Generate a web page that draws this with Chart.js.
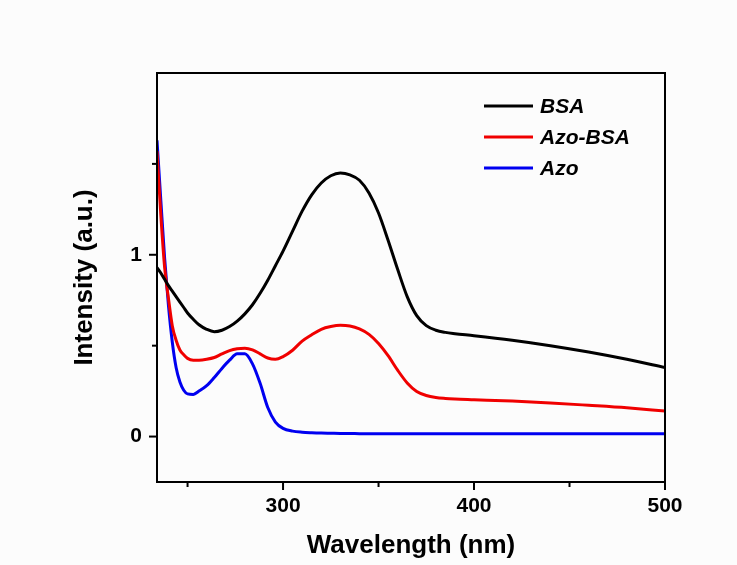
<!DOCTYPE html>
<html>
<head>
<meta charset="utf-8">
<script src="https://cdn.jsdelivr.net/npm/chart.js"></script>
<style>
  html, body { margin: 0; padding: 0; background: #fcfcfc; }
  #wrap { width: 737px; height: 565px; }
</style>
</head>
<body>
<div id="wrap"><canvas id="grafico"></canvas></div>
<script>
// wavelength grid (nm)
const comprimento = [234, 236, 238, 240, 242, 244, 246, 248, 250, 253, 256, 260, 264, 268, 272, 276, 280, 284, 288, 292,
  296, 300, 305, 310, 315, 320, 325, 330, 335, 340, 345, 350, 355, 360, 365, 370, 375, 380, 385, 390,
  400, 420, 440, 460, 480, 500];

const bsa = [0.93, 0.90, 0.865, 0.83, 0.80, 0.77, 0.74, 0.71, 0.68, 0.645, 0.615, 0.59, 0.577, 0.585, 0.605, 0.635, 0.675, 0.725, 0.788, 0.86,
  0.94, 1.02, 1.13, 1.24, 1.33, 1.395, 1.435, 1.45, 1.44, 1.41, 1.34, 1.23, 1.08, 0.92, 0.77, 0.665, 0.61, 0.585, 0.573, 0.566,
  0.555, 0.53, 0.50, 0.465, 0.425, 0.38];

const azoBsa = [1.57, 1.22, 0.93, 0.76, 0.61, 0.53, 0.476, 0.45, 0.43, 0.42, 0.42, 0.425, 0.435, 0.455, 0.473, 0.483, 0.486, 0.477, 0.455, 0.432,
  0.425, 0.44, 0.475, 0.525, 0.56, 0.59, 0.605, 0.612, 0.608, 0.592, 0.562, 0.512, 0.445, 0.365, 0.295, 0.248, 0.226, 0.215, 0.21, 0.207,
  0.203, 0.195, 0.185, 0.172, 0.158, 0.14];

const azo = [1.63, 1.30, 0.98, 0.72, 0.52, 0.38, 0.30, 0.255, 0.235, 0.232, 0.25, 0.28, 0.325, 0.375, 0.42, 0.455, 0.455, 0.40, 0.293, 0.16,
  0.08, 0.045, 0.03, 0.024, 0.021, 0.019, 0.018, 0.017, 0.017, 0.016, 0.016, 0.016, 0.016, 0.015, 0.015, 0.015, 0.015, 0.015, 0.015, 0.015,
  0.015, 0.016, 0.016, 0.015, 0.015, 0.015];

const ticksX = [250, 300, 350, 400, 450, 500];
const rotulosX = [300, 400, 500];
const ticksY = [0, 0.5, 1, 1.5];
const rotulosY = [0, 1];

function pontos(valores) {
  return comprimento.map((x, i) => ({ x: x, y: valores[i] }));
}

const fonteEixo = "'Liberation Sans', Arial, sans-serif";

// moldura da área do gráfico + marcas dos eixos (maiores e menores)
const moldura = {
  id: "moldura",
  afterDatasetsDraw(chart) {
    const { ctx, chartArea: a, scales } = chart;
    ctx.save();
    ctx.strokeStyle = "#000";
    ctx.lineWidth = 2;
    ctx.strokeRect(a.left, a.top, a.right - a.left, a.bottom - a.top);
    ticksX.forEach((v) => {
      const px = scales.x.getPixelForValue(v);
      const len = rotulosX.includes(v) ? 8 : 5;
      ctx.beginPath();
      ctx.moveTo(px, a.bottom);
      ctx.lineTo(px, a.bottom + len);
      ctx.stroke();
    });
    ticksY.forEach((v) => {
      const py = scales.y.getPixelForValue(v);
      const len = rotulosY.includes(v) ? 8 : 5;
      ctx.beginPath();
      ctx.moveTo(a.left, py);
      ctx.lineTo(a.left - len, py);
      ctx.stroke();
    });
    ctx.restore();
  },
};

// legenda dentro do gráfico
const legenda = {
  id: "legenda",
  afterDraw(chart) {
    const ctx = chart.ctx;
    ctx.save();
    ctx.font = "italic bold 21px " + fonteEixo;
    ctx.textBaseline = "middle";
    chart.data.datasets.forEach((ds, i) => {
      const y = 106 + i * 31;
      ctx.strokeStyle = ds.borderColor;
      ctx.lineWidth = 3;
      ctx.beginPath();
      ctx.moveTo(484, y);
      ctx.lineTo(533, y);
      ctx.stroke();
      ctx.fillStyle = "#000";
      ctx.fillText(ds.label, 540, y + 1);
    });
    ctx.restore();
  },
};

const grafico = document.getElementById("grafico");

new Chart(grafico, {
  type: "line",
  data: {
    datasets: [
      { label: "BSA", data: pontos(bsa), borderColor: "#000000" },
      { label: "Azo-BSA", data: pontos(azoBsa), borderColor: "#f00000" },
      { label: "Azo", data: pontos(azo), borderColor: "#0000f0" },
    ],
  },
  options: {
    responsive: true,
    maintainAspectRatio: false,
    animation: false,
    elements: {
      line: { borderWidth: 3, cubicInterpolationMode: "monotone" },
      point: { radius: 0 },
    },
    layout: { padding: { left: 0, right: 72, top: 73, bottom: 0 } },
    scales: {
      x: {
        type: "linear",
        min: 234,
        max: 500,
        afterBuildTicks: (s) => { s.ticks = ticksX.map((v) => ({ value: v })); },
        afterFit: (s) => { s.height = 83; },
        grid: { display: false, drawTicks: false },
        border: { display: false },
        ticks: {
          padding: 12,
          color: "#000",
          font: { family: fonteEixo, size: 21, weight: "bold" },
          callback: (v) => (rotulosX.includes(v) ? v : ""),
        },
        title: {
          display: true,
          text: "Wavelength (nm)",
          color: "#000",
          font: { family: fonteEixo, size: 26, weight: "bold" },
          padding: { top: 0, bottom: 4 },
        },
      },
      y: {
        min: -0.25,
        max: 2,
        afterBuildTicks: (s) => { s.ticks = ticksY.map((v) => ({ value: v })); },
        afterFit: (s) => { s.width = 157; },
        grid: { display: false, drawTicks: false },
        border: { display: false },
        ticks: {
          padding: 15,
          color: "#000",
          font: { family: fonteEixo, size: 21, weight: "bold" },
          callback: (v) => (rotulosY.includes(v) ? v : ""),
        },
        title: {
          display: true,
          text: "Intensity (a.u.)",
          color: "#000",
          font: { family: fonteEixo, size: 26, weight: "bold" },
          padding: { top: 69, bottom: 0 },
        },
      },
    },
    plugins: {
      legend: { display: false },
      tooltip: { enabled: false },
    },
  },
  plugins: [moldura, legenda],
});
</script>
</body>
</html>
